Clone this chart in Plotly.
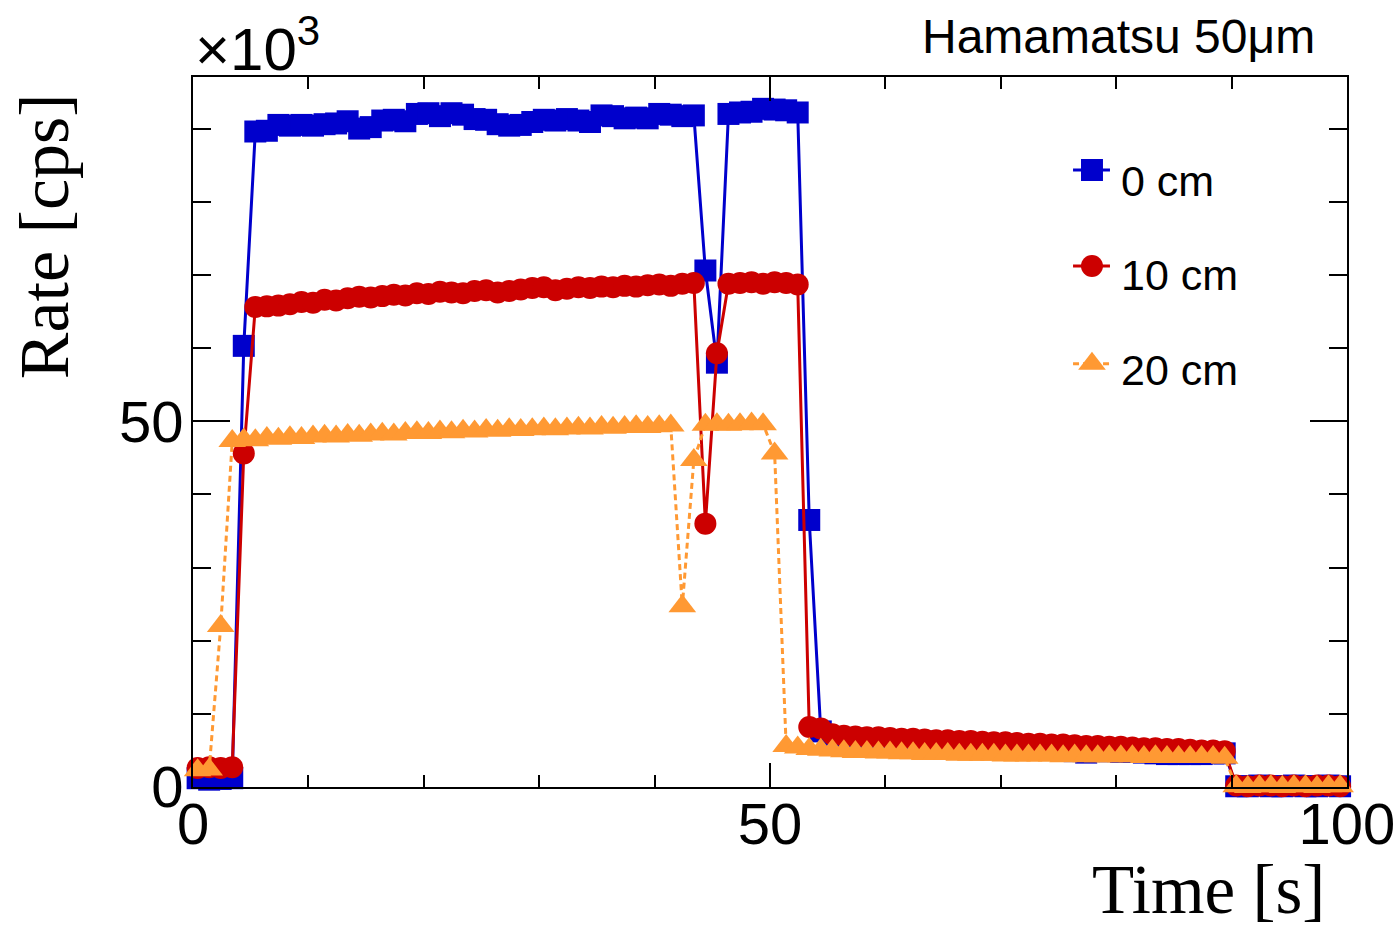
import numpy as np
import plotly.graph_objects as go

# Sampling times of the rate measurement [s]
time_s = np.arange(100) + 0.4

# Count rate in kcps for the three source distances
rate_0cm = [
    1.2, 1.0, 1.1, 1.2,
    60.3,
    89.6, 89.7, 90.5, 90.4, 90.5,
    90.4, 90.6, 90.7, 91.0, 90.0,
    90.2, 91.1, 91.2, 91.0, 92.0,
    92.1, 91.7, 92.1, 91.9, 91.3,
    91.2, 90.6, 90.4, 90.5, 90.9,
    91.2, 91.1, 91.3, 91.1, 90.9,
    91.8, 91.7, 91.4, 91.5, 91.4,
    92.0, 91.9, 91.7, 91.8,
    70.6, 58.0,
    92.0, 92.2, 92.3, 92.7, 92.6, 92.5, 92.2,
    36.5, 7.6,
    6.8, 6.7, 6.6, 6.5, 6.4,
    6.4, 6.3, 6.2, 6.2, 6.1,
    6.0, 5.9, 5.9, 5.8, 5.7,
    5.4, 5.3, 5.3, 5.2, 5.1,
    5.0, 4.9, 4.7, 4.9, 4.9,
    4.8, 4.8, 4.7, 4.6, 4.5,
    4.5, 4.5, 4.5, 4.6, 4.6,
    0.1, 0.1, 0.2, 0.1, 0.1, 0.2, 0.1, 0.1, 0.2, 0.1,
]
rate_10cm = [
    2.6, 2.7, 2.6, 2.7,
    45.6,
    65.6, 65.7, 65.8, 66.0, 66.3,
    66.2, 66.6, 66.5, 66.8, 67.0,
    66.9, 67.1, 67.3, 67.2, 67.5,
    67.4, 67.7, 67.6, 67.5, 67.8,
    67.9, 67.6, 67.8, 68.0, 68.2,
    68.3, 67.9, 68.1, 68.3, 68.2,
    68.4, 68.3, 68.5, 68.4, 68.6,
    68.7, 68.5, 68.8, 68.9,
    36.0, 59.3,
    68.8, 68.9, 69.0, 68.8, 69.0, 68.9, 68.7,
    8.2, 8.0,
    7.2, 7.0, 6.9, 6.8, 6.8,
    6.7, 6.6, 6.6, 6.5, 6.4,
    6.4, 6.3, 6.3, 6.2, 6.1,
    6.1, 6.0, 5.9, 5.9, 5.8,
    5.8, 5.7, 5.6, 5.6, 5.5,
    5.5, 5.4, 5.3, 5.3, 5.2,
    5.2, 5.1, 5.0, 5.0, 4.9,
    0.2, 0.1, 0.2, 0.2, 0.1, 0.2, 0.1, 0.2, 0.2, 0.1,
]
rate_20cm = [
    2.3, 2.4, 22.0, 47.3,
    47.5,
    47.4, 47.7, 47.6, 47.8, 47.7,
    47.9, 48.0, 47.9, 48.1, 48.0,
    48.2, 48.3, 48.2, 48.4, 48.5,
    48.4, 48.6, 48.5, 48.7, 48.6,
    48.8, 48.7, 48.9, 48.8, 48.9,
    49.0, 48.9, 49.0, 49.1, 49.0,
    49.2, 49.1, 49.2, 49.3, 49.2,
    49.3, 49.4,
    24.7, 44.7,
    49.5, 49.6, 49.5, 49.6, 49.7, 49.6,
    45.6, 5.6,
    5.4, 5.2, 5.1, 5.0, 4.9, 4.8, 4.8, 4.7, 4.7,
    4.6, 4.6, 4.5, 4.5, 4.5, 4.4, 4.4, 4.4, 4.4, 4.3,
    4.3, 4.3, 4.3, 4.3, 4.2, 4.3, 4.2, 4.2, 4.2, 4.2,
    4.2, 4.1, 4.2, 4.1, 4.1, 4.1, 4.1, 4.1, 4.0,
    0.1, 0.0, 0.1, 0.1, 0.0, 0.1, 0.1, 0.0, 0.1, 0.1,
]

series_names = ["0 cm", "10 cm", "20 cm"]
series_rates = [rate_0cm, rate_10cm, rate_20cm]

colors = ["#0000CC", "#CC0000", "#FF9933"]
symbols = ["square", "circle", "triangle-up"]
marker_sizes = [22, 22, 24]
dashes = ["solid", "solid", "6px,4px"]

SANS = "Liberation Sans"
SERIF = "Liberation Serif"

fig = go.Figure()

for name, rate, col, sym, ms, dash in zip(series_names, series_rates, colors,
                                          symbols, marker_sizes, dashes):
    fig.add_trace(go.Scatter(
        x=time_s, y=rate, mode="lines+markers", name=name,
        line=dict(color=col, width=3, dash=dash),
        marker=dict(symbol=sym, size=ms, color=col, line=dict(width=0)),
        cliponaxis=False, showlegend=False,
    ))

# Legend keys drawn on a hidden overlay axis spanning the frame (0..1)
key_line = [0.7626, 0.7946]
key_mark = 0.779
key_rows = [0.869, 0.7338, 0.596]
key_text_x = 0.8024
key_text_rows = [0.8535, 0.7211, 0.5873]

for i, (name, col, sym, ms, dash) in enumerate(zip(series_names, colors, symbols,
                                                   marker_sizes, dashes)):
    fig.add_trace(go.Scatter(
        x=key_line, y=[key_rows[i]] * 2, mode="lines",
        line=dict(color=col, width=3, dash=dash),
        xaxis="x2", yaxis="y2", showlegend=False, hoverinfo="skip",
    ))
    fig.add_trace(go.Scatter(
        x=[key_mark], y=[key_rows[i]], mode="markers",
        marker=dict(symbol=sym, size=ms, color=col, line=dict(width=0)),
        xaxis="x2", yaxis="y2", showlegend=False, hoverinfo="skip",
    ))
    fig.add_annotation(
        x=key_text_x, y=key_text_rows[i], xref="x2", yref="y2",
        text=name, showarrow=False, xanchor="left", yanchor="middle",
        font=dict(family=SANS, size=43, color="black"),
    )

axis_common = dict(
    ticks="inside", tickwidth=2, tickcolor="black",
    showline=True, linecolor="black", linewidth=2, mirror="ticks",
    showgrid=False, zeroline=False, automargin=False,
    tickfont=dict(family=SANS, size=58, color="black"),
)

fig.update_layout(
    width=1400, height=929,
    margin=dict(l=193, r=53, t=77, b=142, autoexpand=False),
    plot_bgcolor="white", paper_bgcolor="white",
    xaxis=dict(
        range=[0, 100], tick0=0, dtick=50, ticklen=24, ticklabelstandoff=-15,
        minor=dict(dtick=10, tick0=0, ticks="inside", ticklen=12,
                   tickwidth=2, tickcolor="black", showgrid=False),
        **axis_common,
    ),
    yaxis=dict(
        range=[0, 97.05], tick0=0, dtick=50, ticklen=37, ticklabelstandoff=-4,
        minor=dict(dtick=10, tick0=0, ticks="inside", ticklen=18,
                   tickwidth=2, tickcolor="black", showgrid=False),
        **axis_common,
    ),
    xaxis2=dict(overlaying="x", anchor="y2", range=[0, 1], visible=False),
    yaxis2=dict(overlaying="y", anchor="x2", range=[0, 1], visible=False),
    showlegend=False,
)

# Scale factor, title and axis titles
fig.add_annotation(
    x=0, y=0.9887, xref="paper", yref="paper", xanchor="left", yanchor="bottom",
    text="×10<sup>3</sup>", showarrow=False,
    font=dict(family=SANS, size=60, color="black"),
)
fig.add_annotation(
    x=0.974, y=1.0577, xref="paper", yref="paper", xanchor="right", yanchor="middle",
    text="Hamamatsu 50μm", showarrow=False,
    font=dict(family=SANS, size=48, color="black"),
)
fig.add_annotation(
    x=-0.129, y=0.776, xref="paper", yref="paper", xanchor="center", yanchor="middle",
    text="Rate [cps]", textangle=-90, showarrow=False,
    font=dict(family=SERIF, size=70, color="black"),
)
fig.add_annotation(
    x=0.880, y=-0.145, xref="paper", yref="paper", xanchor="center", yanchor="middle",
    text="Time [s]", showarrow=False,
    font=dict(family=SERIF, size=69, color="black"),
)

fig.write_html("out.html")
